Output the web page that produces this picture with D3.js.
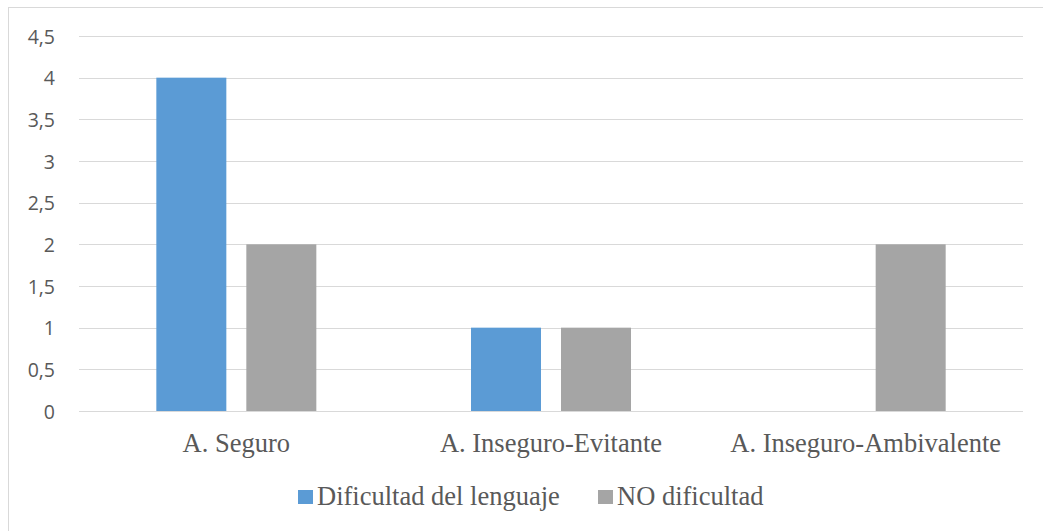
<!DOCTYPE html>
<html>
<head>
<meta charset="utf-8">
<script src="https://cdn.jsdelivr.net/npm/d3@7"></script>
<style>
  html, body { margin: 0; padding: 0; background: #fff; }
  svg { display: block; }
  .serif { font-family: "Liberation Serif", "Times New Roman", Tinos, "DejaVu Serif", serif; }
</style>
</head>
<body>
<svg id="chart" width="1043" height="531"></svg>
<script>
// Categories and series
const categories = ["A. Seguro", "A. Inseguro-Evitante", "A. Inseguro-Ambivalente"];
const seriesNames = ["Dificultad del lenguaje", "NO dificultad"];
const dificultad = [4, 1, 0];
const noDificultad = [2, 1, 2];
const yTicks = [0, 0.5, 1, 1.5, 2, 2.5, 3, 3.5, 4, 4.5];
const colors = ["#5B9BD5", "#A5A5A5"];

const svg = d3.select("#chart");
const W = 1043, H = 531;

// Chart frame
svg.append("rect")
  .attr("x", 8.5).attr("y", 7.5)
  .attr("width", W + 20).attr("height", H + 20)
  .attr("fill", "#fff").attr("stroke", "#d9d9d9").attr("stroke-width", 1);

const plot = { left: 79, right: 1023, top: 36, bottom: 411 };

const y = d3.scaleLinear().domain([0, 4.5]).range([plot.bottom, plot.top]);
const x = d3.scaleBand().domain(categories).range([plot.left, plot.right]).padding(0);

const barW = 70, innerGap = 20;
const groupW = barW * 2 + innerGap;

// Gridlines
const grid = svg.append("g")
  .attr("transform", `translate(${plot.left},0)`)
  .call(d3.axisLeft(y).tickValues(yTicks).tickSize(-(plot.right - plot.left)).tickFormat(""));
grid.select(".domain").remove();
grid.selectAll("line").attr("stroke", "#d9d9d9").attr("stroke-width", 1)
  .attr("shape-rendering", "crispEdges");

// Y axis labels
const fmt = v => String(v).replace(".", ",");
const yAxis = svg.append("g")
  .attr("transform", `translate(55,0)`)
  .call(d3.axisLeft(y).tickValues(yTicks).tickSize(0).tickPadding(0).tickFormat(fmt));
yAxis.select(".domain").remove();
yAxis.selectAll("text")
  .style("font-family", "'Open Sans', sans-serif")
  .style("font-size", "19.5px")
  .attr("fill", "#595959")
  .attr("dy", "0.36em");

// Bars
const series = [dificultad, noDificultad];
const groups = svg.append("g");
series.forEach((vals, si) => {
  groups.selectAll(null)
    .data(vals.map((v, i) => ({ v, c: categories[i] })))
    .join("rect")
    .filter(d => d.v > 0)
    .attr("x", d => x(d.c) + x.bandwidth() / 2 - groupW / 2 + si * (barW + innerGap))
    .attr("y", d => y(d.v))
    .attr("width", barW)
    .attr("height", d => y(0) - y(d.v))
    .attr("fill", colors[si]);
});

// Category labels
const xAxis = svg.append("g")
  .attr("transform", `translate(0,${plot.bottom})`)
  .call(d3.axisBottom(x).tickSize(0).tickPadding(0));
xAxis.attr("font-family", null).attr("font-size", null);
xAxis.select(".domain").attr("stroke", "#d9d9d9")
  .attr("d", `M${plot.left},0.5H${plot.right}`);
xAxis.selectAll("text")
  .attr("class", "serif")
  .style("font-size", "26.5px")
  .attr("fill", "#595959")
  .attr("y", 41)
  .attr("dy", 0);

// Legend
const legendItems = [
  { name: seriesNames[0], color: colors[0], x: 298 },
  { name: seriesNames[1], color: colors[1], x: 598 }
];
const legend = svg.append("g");
legendItems.forEach(it => {
  legend.append("rect")
    .attr("x", it.x).attr("y", 490)
    .attr("width", 15).attr("height", 14)
    .attr("fill", it.color);
  legend.append("text")
    .attr("class", "serif")
    .attr("x", it.x + 19).attr("y", 505)
    .style("font-size", "26.5px")
    .attr("fill", "#595959")
    .text(it.name);
});
</script>
</body>
</html>
